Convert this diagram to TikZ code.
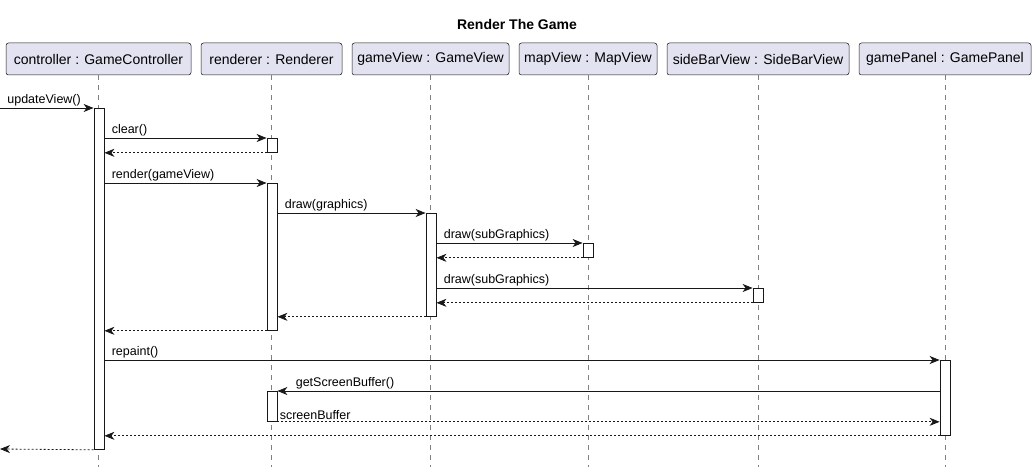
\documentclass[tikz,border=0pt]{standalone}
\usepackage{fontspec}
\setmainfont{Liberation Sans}
\usepackage{tikz}
\usetikzlibrary{arrows.meta, calc}
\usepackage{xcolor}
\definecolor{partfill}{HTML}{E2E2F0}
\definecolor{umlline}{HTML}{181818}

\begin{document}
\begin{tikzpicture}[x=1pt, y=-1pt,
    every node/.style={font=\fontsize{12.5}{14}\selectfont},
    participant/.style={draw=umlline, fill=partfill, rounded corners=2.5pt, line width=0.5pt, minimum height=32pt, inner sep=0pt, font=\fontsize{14}{16}\selectfont},
    lifeline/.style={draw=gray, line width=0.6pt, dash pattern=on 5pt off 5pt},
    act/.style={draw=umlline, fill=white, line width=0.8pt, minimum width=10pt, inner sep=0pt, anchor=north},
    msg/.style={draw=umlline, line width=0.8pt, -{Stealth[length=10pt, width=8pt, inset=3pt]}},
    ret/.style={msg, dash pattern=on 2pt off 2pt},
    lbl/.style={anchor=south west, inner sep=2pt, xshift=5pt}]

                \useasboundingbox (0,0) rectangle (1035,473);

                % title
                \node[font=\fontsize{14}{16}\selectfont\bfseries] (title) at (517,24) {Render The Game};

                % participants
                \node[participant, minimum width=185] (controller) at (98.5,59) {controller : GameController};
                \node[participant, minimum width=141] (renderer) at (271.5,59) {renderer : Renderer};
                \node[participant, minimum width=157] (gameView) at (430.5,59) {gameView : GameView};
                \node[participant, minimum width=138] (mapView) at (588,59) {mapView : MapView};
                \node[participant, minimum width=182] (sideBarView) at (758,59) {sideBarView : SideBarView};
                \node[participant, minimum width=172] (gamePanel) at (945,59) {gamePanel : GamePanel};

                % lifelines
                \draw[lifeline] (controller.south) -- ++(0,392);
                \draw[lifeline] (renderer.south) -- ++(0,392);
                \draw[lifeline] (gameView.south) -- ++(0,392);
                \draw[lifeline] (mapView.south) -- ++(0,392);
                \draw[lifeline] (sideBarView.south) -- ++(0,392);
                \draw[lifeline] (gamePanel.south) -- ++(0,392);

                % activations
                \node[act, minimum height=341] (aCtrl) at (99,108) {};
                \node[act, minimum height=14] (aRendA) at (272,138) {};
                \node[act, minimum height=147] (aRendB) at (272,183) {};
                \node[act, minimum height=103] (aGame) at (431,213) {};
                \node[act, minimum height=14] (aMap) at (588,243) {};
                \node[act, minimum height=14] (aSide) at (758,288) {};
                \node[act, minimum height=75] (aPanel) at (945,360) {};
                \node[act, minimum height=30] (aRendC) at (272,391) {};

                % free ends
                \coordinate (entry) at (0,108);
                \coordinate (exit) at (0,449);

                % messages
                \draw[msg] (entry) -- (aCtrl.north west) node[lbl, pos=0] {updateView()};

                \draw[msg] (aCtrl.east |- aRendA.north) -- (aRendA.north west) node[lbl, pos=0] {clear()};
                \draw[ret] (aRendA.south west) -- (aCtrl.east |- aRendA.south);

                \draw[msg] (aCtrl.east |- aRendB.north) -- (aRendB.north west) node[lbl, pos=0] {render(gameView)};
                \draw[msg] (aRendB.east |- aGame.north) -- (aGame.north west) node[lbl, pos=0] {draw(graphics)};

                \draw[msg] (aGame.east |- aMap.north) -- (aMap.north west) node[lbl, pos=0] {draw(subGraphics)};
                \draw[ret] (aMap.south west) -- (aGame.east |- aMap.south);

                \draw[msg] (aGame.east |- aSide.north) -- (aSide.north west) node[lbl, pos=0] {draw(subGraphics)};
                \draw[ret] (aSide.south west) -- (aGame.east |- aSide.south);

                \draw[ret] (aGame.south west) -- (aRendB.east |- aGame.south);
                \draw[ret] (aRendB.south west) -- (aCtrl.east |- aRendB.south);

                \draw[msg] (aCtrl.east |- aPanel.north) -- (aPanel.north west) node[lbl, pos=0] {repaint()};
                \draw[msg] (aPanel.west |- aRendC.north) -- (aRendC.north east) node[lbl, pos=1, xshift=11pt] {getScreenBuffer()};
                \draw[ret] (aRendC.south east) -- (aPanel.west |- aRendC.south) node[lbl, pos=0, xshift=-5pt] {screenBuffer};
                \draw[ret] (aPanel.south west) -- (aCtrl.east |- aPanel.south);

                \draw[ret] (aCtrl.south west) -- (exit);

\end{tikzpicture}
\end{document}
